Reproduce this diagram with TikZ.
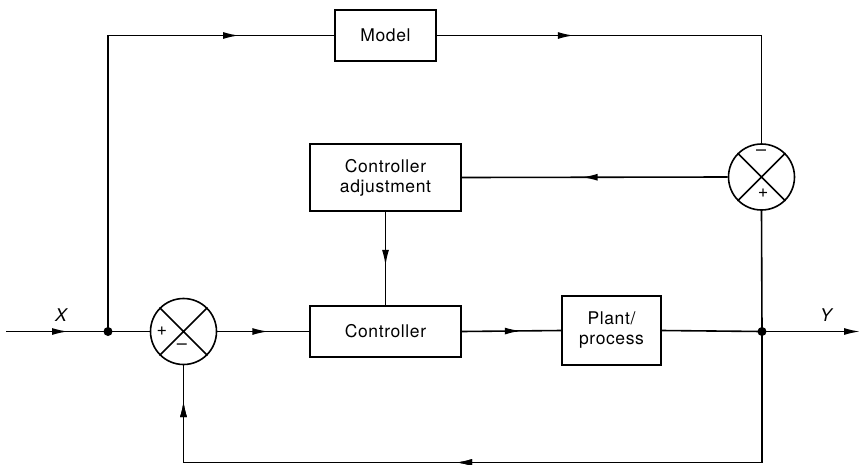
\documentclass[tikz,border=0pt]{standalone}
\usepackage{fontspec}
\setmainfont[LetterSpace=3.5]{TeX Gyre Heros}
\usetikzlibrary{arrows.meta,decorations.markings}
\begin{document}
\begin{tikzpicture}[x=1pt,y=-1pt,
  line width=1.6pt,
  font=\fontsize{17.5}{20}\selectfont,
  blk/.style={draw,rectangle,inner sep=0pt,align=center},
  sumc/.style={draw,circle,minimum size=66pt,inner sep=0pt},
  junc/.style={fill,circle,minimum size=9pt,inner sep=0pt},
  sgn/.style={font=\fontsize{18}{18}\selectfont,inner sep=0pt},
  tipA/.style={-{Latex[length=16pt,width=7pt]}},
  midarr/.style={postaction={decorate},decoration={markings,
     mark=at position #1 with {\arrow{Latex[length=16pt,width=7pt]}}}}
]
\useasboundingbox (0,0) rectangle (860,464);

% blocks
\node[blk,minimum width=101pt,minimum height=51pt] (model) at (385.5,35.5) {Model};
\node[blk,minimum width=151pt,minimum height=67pt] (cadj) at (385.5,177.5) {Controller\\adjustment};
\node[blk,minimum width=151pt,minimum height=51pt] (ctrl) at (385.5,331.5) {Controller};
\node[blk,minimum width=99pt,minimum height=69pt] (plant) at (611.5,330.5) {Plant/\\process};

% summing junctions
\node[sumc] (s1) at (183.5,331.5) {};
\draw (s1.45) -- (s1.225) (s1.135) -- (s1.-45);
\node[sgn] (s1p) at (162,331) {+};
\node[sgn] (s1m) at (182,347) {\textendash};

\node[sumc] (s2) at (761.5,177) {};
\draw (s2.45) -- (s2.225) (s2.135) -- (s2.-45);
\node[sgn] (s2m) at (761,153) {\textendash};
\node[sgn] (s2p) at (763,193) {+};

% junction points
\node[junc] (j1) at (108,331.5) {};
\node[junc] (j2) at (762,331.5) {};
\coordinate (xin) at (6,331.5);
\coordinate (yout) at (860,331.5);

% labels
\node[font=\fontsize{17.5}{20}\selectfont\itshape] (xl) at (61,315) {X};
\node[font=\fontsize{17.5}{20}\selectfont\itshape] (yl) at (826,315) {Y};

% connectors
\draw[midarr=62pt] (xin) -- (j1.center);
\draw (j1.center) -- (s1.west);
\draw[midarr=427pt] (j1.center) |- (model.west);
\draw[midarr=137pt] (model.east) -| (s2.north);
\draw (j2.center) -- (s2.south);
\draw[midarr=146pt] (s2.west) -- (cadj.east);
\draw[midarr=54pt] (cadj.south) -- (ctrl.north);
\draw[midarr=51pt] (s1.east) -- (ctrl.west);
\draw[midarr=59pt] (ctrl.east) -- (plant.west);
\draw (plant.east) -- (j2.center);
\draw[tipA] (j2.center) -- (yout);
\draw[midarr=437pt,midarr=771pt] (j2.center) -- (762,462.5) -- (183.5,462.5) -- (s1.south);
\end{tikzpicture}
\end{document}
